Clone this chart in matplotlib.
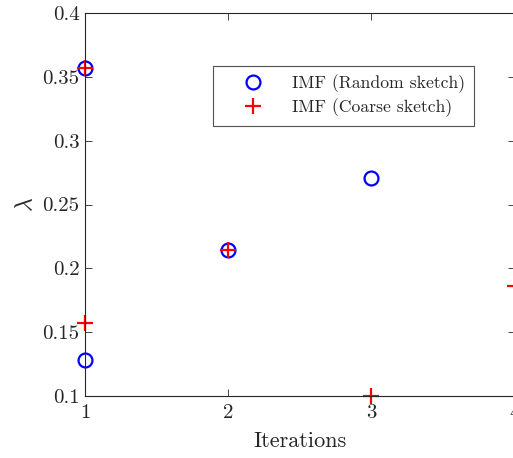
import matplotlib
matplotlib.use("Agg")
import matplotlib.pyplot as plt

# Eigenvalue estimates per iteration for the two sketching schemes
random_iter = [1, 1, 2, 3]
random_lambda = [0.357, 0.128, 0.214, 0.271]
coarse_iter = [1, 1, 2, 3, 4]
coarse_lambda = [0.357, 0.157, 0.214, 0.100, 0.186]

x_ticks = [1, 2, 3, 4]
y_ticks = [0.1, 0.15, 0.2, 0.25, 0.3, 0.35, 0.4]
y_tick_labels = ["0.1", "0.15", "0.2", "0.25", "0.3", "0.35", "0.4"]

plt.rcParams["font.family"] = "cmr10"
plt.rcParams["mathtext.fontset"] = "cm"
plt.rcParams["axes.formatter.use_mathtext"] = True

text_color = "#262626"

fig = plt.figure(figsize=(5.13, 4.58), dpi=100)
ax = fig.add_axes([85 / 513, 62 / 458, 429.5 / 513, 383 / 458])

ax.plot(random_iter, random_lambda, linestyle="none", marker="o",
        markersize=10, markerfacecolor="none", markeredgecolor="#0000ff",
        markeredgewidth=1.6, clip_on=False, label="IMF (Random sketch)")
ax.plot(coarse_iter, coarse_lambda, linestyle="none", marker="+",
        markersize=11, markeredgecolor="#ff0000", markeredgewidth=1.6,
        clip_on=False, label="IMF (Coarse sketch)")

ax.set_xlim(1, 4)
ax.set_ylim(0.1, 0.4)
ax.set_xticks(x_ticks)
ax.set_xticklabels([str(t) for t in x_ticks])
ax.set_yticks(y_ticks)
ax.set_yticklabels(y_tick_labels)

ax.tick_params(direction="in", top=True, right=True, length=5, width=0.6,
               colors=text_color, labelsize=15)
ax.tick_params(axis="x", pad=6)
ax.tick_params(axis="y", pad=4)
for sp in ax.spines.values():
    sp.set_color(text_color)
    sp.set_linewidth(0.8)

ax.set_xlabel("Iterations", fontsize=16, color=text_color, labelpad=7)
ax.set_ylabel(r"$\lambda$", fontsize=17, color=text_color, labelpad=4)

leg = ax.legend(loc="upper left", bbox_to_anchor=(213 / 513, 1 - 66 / 458),
                bbox_transform=fig.transFigure, borderaxespad=0,
                frameon=True, fancybox=False, edgecolor=text_color,
                fontsize=12.7, handlelength=3.5, handletextpad=0.5,
                borderpad=0.5, labelspacing=0.3)
leg.get_frame().set_linewidth(0.8)
for t in leg.get_texts():
    t.set_color(text_color)

fig.savefig("out.png", dpi=100)
